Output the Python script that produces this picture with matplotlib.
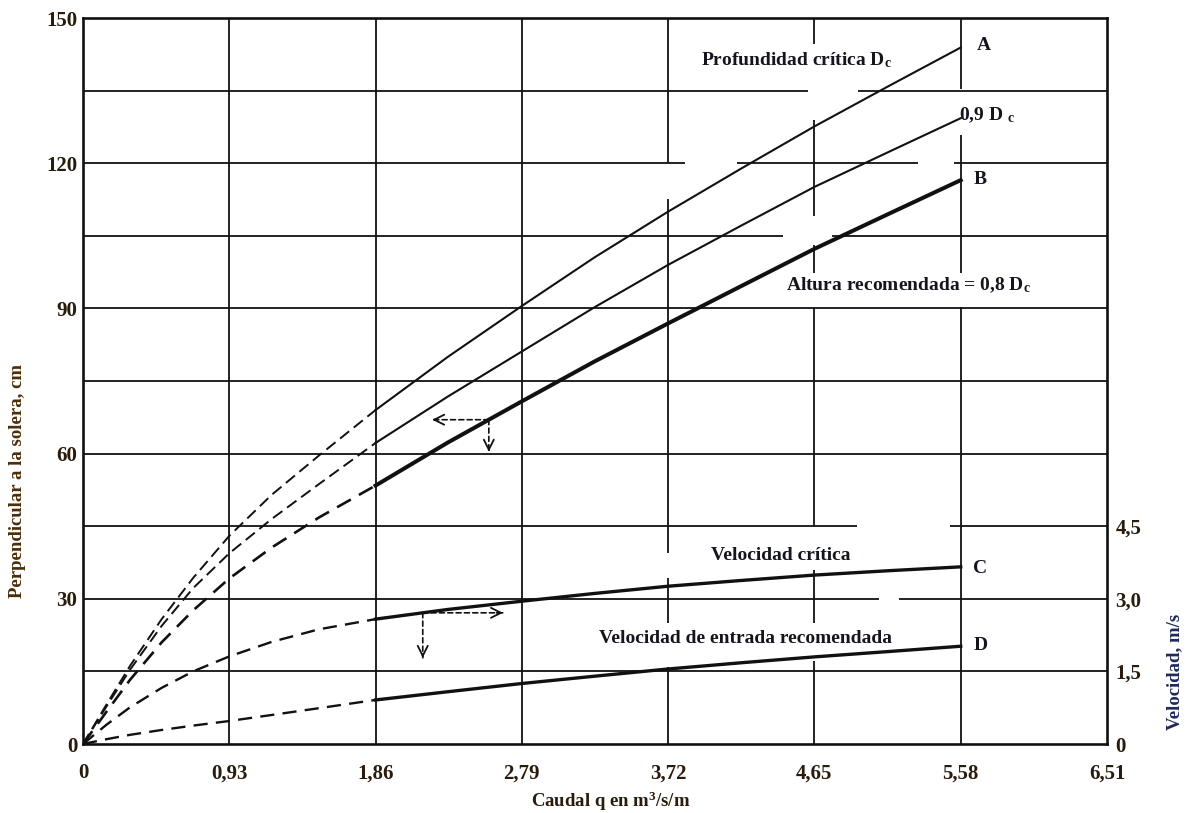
import numpy as np
import matplotlib
matplotlib.use('Agg')
import matplotlib.pyplot as plt

plt.rcParams['font.family'] = ['Liberation Serif', 'DejaVu Serif']
plt.rcParams['font.weight'] = 'bold'
plt.rcParams['mathtext.fontset'] = 'custom'
plt.rcParams['mathtext.rm'] = 'Liberation Serif:bold'
plt.rcParams['mathtext.it'] = 'Liberation Serif:bold'
plt.rcParams['mathtext.bf'] = 'Liberation Serif:bold'

# ---------------- data ----------------
x_ticks = [0, 0.93, 1.86, 2.79, 3.72, 4.65, 5.58, 6.51]
x_ticklabels = ['0', '0,93', '1,86', '2,79', '3,72', '4,65', '5,58', '6,51']
y_ticks = [0, 30, 60, 90, 120, 150]
y_ticklabels = ['0', '30', '60', '90', '120', '150']
grid_y = [15, 30, 45, 60, 75, 90, 105, 120, 135]
v_ticks = [0, 1.5, 3.0, 4.5]
v_ticklabels = ['0', '1,5', '3,0', '4,5']

# caudal q (m3/s/m) -- dashed (extrapolated) part and solid part
q_dashed = [0, 0.15, 0.3, 0.5, 0.7, 0.93, 1.2, 1.5, 1.86]
q_solid = [1.86, 2.32, 2.79, 3.25, 3.72, 4.19, 4.65, 5.12, 5.58]

# depths (cm)
dc_dashed = [0, 8.2, 16.2, 25.8, 34.3, 43, 51.5, 59.6, 69]
dc_solid = [69, 80, 90.5, 100.5, 110, 119, 127.6, 135.9, 143.9]
dc09_dashed = [0, 7.8, 15.4, 24.4, 32.2, 39.4, 46.5, 53.7, 62.2]
dc09_solid = [62.2, 71.8, 81.1, 90.2, 99, 107.2, 115.1, 122.3, 129.3]
dc08_dashed = [0, 6.7, 13.3, 21, 27.6, 34.2, 40.6, 46.8, 53.4]
dc08_solid = [53.4, 62.3, 70.8, 79, 86.9, 94.7, 102.3, 109.5, 116.5]

# velocities (m/s)
vc_dashed = [0, 0.40, 0.76, 1.16, 1.50, 1.81, 2.11, 2.37, 2.58]
vc_solid = [2.58, 2.78, 2.95, 3.11, 3.26, 3.38, 3.49, 3.58, 3.66]
ve_dashed = [0, 0.10, 0.19, 0.29, 0.38, 0.475, 0.60, 0.74, 0.91]
ve_solid = [0.91, 1.08, 1.25, 1.40, 1.55, 1.68, 1.80, 1.91, 2.02]

# ---------------- styles ----------------
INK = '#111111'
TICK_C = '#2a1c0c'
YLAB_C = '#4a2e0a'
VLAB_C = '#1e2a5a'
TXT_C = '#15151f'
FS_TICK = 15
FS_TXT = 14

# breaks in the (scanned) grid lines
vgaps = {3.72: [(112.5, 120), (16, 25), (34.3, 39.4)],
         4.65: [(129, 144.7), (103, 109), (90, 97.4), (36, 45), (17.2, 25)],
         5.58: [(90.3, 97.4), (125.9, 135.3)]}
hgaps = {135: [(4.61, 4.93)], 120: [(3.83, 4.16), (5.31, 5.54)],
         105: [(4.45, 4.76)], 45: [(4.92, 5.51)], 30: [(5.06, 5.19)]}


def segments(lo, hi, gaps):
    segs, start = [], lo
    for a, b in sorted(gaps):
        segs.append((start, a))
        start = b
    segs.append((start, hi))
    return segs


fig = plt.figure(figsize=(11.88, 8.13), dpi=100)
ax = fig.add_axes([83 / 1188, 69 / 813, 1024 / 1188, 726 / 813])
ax.set_xlim(0, 6.51)
ax.set_ylim(0, 150)

# grid
for xv in x_ticks[1:-1]:
    for a, b in segments(0, 150, vgaps.get(xv, [])):
        ax.plot([xv, xv], [a, b], color=INK, lw=1.3, zorder=1, solid_capstyle='butt')
for yv in grid_y:
    for a, b in segments(0, 6.51, hgaps.get(yv, [])):
        ax.plot([a, b], [yv, yv], color=INK, lw=1.3, zorder=1, solid_capstyle='butt')

for s in ax.spines.values():
    s.set_linewidth(1.9)
    s.set_color(INK)

ax.set_xticks(x_ticks)
ax.set_xticklabels(x_ticklabels)
ax.set_yticks(y_ticks)
ax.set_yticklabels(y_ticklabels)
ax.tick_params(length=0, labelsize=FS_TICK, labelcolor=TICK_C)
ax.tick_params(axis='x', pad=14)
ax.tick_params(axis='y', pad=4)

# depth curves
dash_thin = (0, (6, 3))
dash_thick = (0, (6, 3.5))
ax.plot(q_dashed, dc_dashed, color=INK, lw=1.4, ls=dash_thin, zorder=3)
ax.plot(q_solid, dc_solid, color=INK, lw=1.5, zorder=3)
ax.plot(q_dashed, dc09_dashed, color=INK, lw=1.4, ls=dash_thin, zorder=3)
ax.plot(q_solid, dc09_solid, color=INK, lw=1.5, zorder=3)
ax.plot(q_dashed, dc08_dashed, color=INK, lw=1.9, ls=dash_thick, zorder=3)
ax.plot(q_solid, dc08_solid, color=INK, lw=2.9, zorder=3)

# velocity axis
ax2 = ax.twinx()
ax2.set_ylim(0, 15)
ax2.set_yticks(v_ticks)
ax2.set_yticklabels(v_ticklabels)
ax2.tick_params(length=0, labelsize=FS_TICK, labelcolor=TICK_C, pad=6)
for s in ax2.spines.values():
    s.set_visible(False)
ax2.plot(q_dashed, vc_dashed, color=INK, lw=1.7, ls=dash_thick, zorder=3)
ax2.plot(q_solid, vc_solid, color=INK, lw=2.4, zorder=3)
ax2.plot(q_dashed, ve_dashed, color=INK, lw=1.7, ls=dash_thick, zorder=3)
ax2.plot(q_solid, ve_solid, color=INK, lw=2.4, zorder=3)

# reading arrows
def dashed_arrow(axx, start, end):
    axx.annotate('', xy=end, xytext=start,
                 arrowprops=dict(arrowstyle='-', lw=1.2, linestyle=(0, (3, 2)),
                                 color=INK, shrinkA=0, shrinkB=0), zorder=4)
    dx = (end[0] - start[0]) * 0.08
    dy = (end[1] - start[1]) * 0.08
    axx.annotate('', xy=end, xytext=(end[0] - dx, end[1] - dy),
                 arrowprops=dict(arrowstyle='->', lw=1.3, color=INK,
                                 mutation_scale=18, shrinkA=0, shrinkB=0), zorder=4)

qb = 2.58
yb = float(np.interp(qb, q_solid, dc08_solid))
dashed_arrow(ax, (qb, yb), (2.22, yb))
dashed_arrow(ax, (qb, yb), (qb, 60.4))

qc = 2.16
yc = float(np.interp(qc, q_solid, vc_solid))
dashed_arrow(ax2, (qc, yc), (2.67, yc))
dashed_arrow(ax2, (qc, yc), (qc, 1.78))

# curve labels
tk = dict(color=TXT_C, fontsize=FS_TXT, fontweight='bold', zorder=5)
ax.text(3.93, 141.3, r'Profundidad crítica D$_\mathregular{c}$', ha='left', va='center', **tk)
ax.text(5.68, 144.4, 'A', ha='left', va='center', **tk)
ax.text(5.57, 130, r'0,9 D $_\mathregular{c}$', ha='left', va='center', **tk)
ax.text(5.66, 116.7, 'B', ha='left', va='center', **tk)
ax.text(4.47, 94.8, r'Altura recomendada = 0,8 D$_\mathregular{c}$', ha='left', va='center', **tk)
ax.text(3.99, 39.0, 'Velocidad crítica', ha='left', va='center', **tk)
ax.text(5.66, 36.3, 'C', ha='left', va='center', **tk)
ax.text(3.28, 21.8, 'Velocidad de entrada recomendada', ha='left', va='center', **tk)
ax.text(5.66, 20.4, 'D', ha='left', va='center', **tk)

# axis titles
fig.text(18 / 1188, 1 - 481 / 813, 'Perpendicular a la solera, cm', rotation=90,
         ha='center', va='center', fontsize=13.5, fontweight='bold', color=YLAB_C)
fig.text(1175 / 1188, 1 - 672 / 813, 'Velocidad, m/s', rotation=90,
         ha='center', va='center', fontsize=13.5, fontweight='bold', color=VLAB_C)
fig.text(611 / 1188, 1 - 801 / 813, r'Caudal q en m$^\mathregular{3}$/s/m',
         ha='center', va='center', fontsize=13.5, fontweight='bold', color=TICK_C)

fig.savefig('out.png', dpi=100)
